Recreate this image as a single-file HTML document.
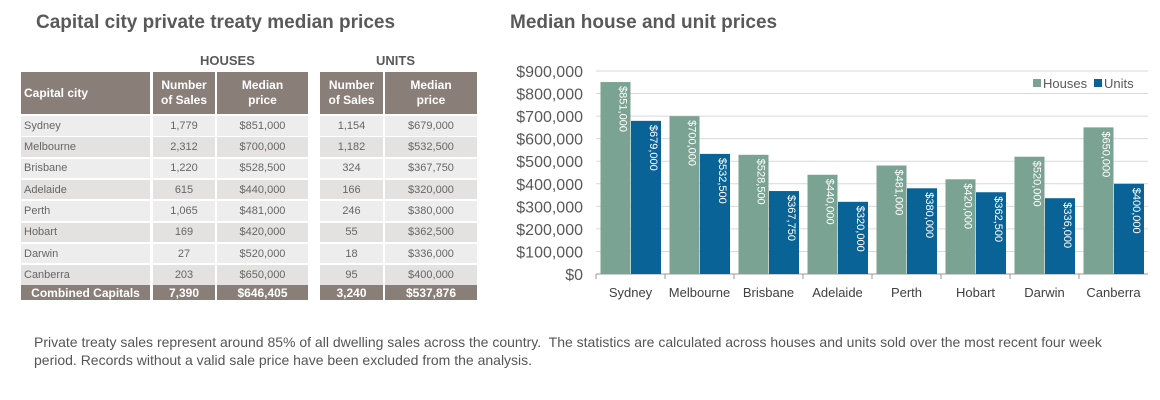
<!DOCTYPE html>
<html><head><meta charset="utf-8"><style>
body{margin:0;width:1160px;height:400px;background:#fff;font-family:"Liberation Sans",sans-serif;position:relative;overflow:hidden}
.a{position:absolute}
.t{font-weight:bold;color:#595959;font-size:19px}
.c{position:absolute;font-size:11px;color:#666;box-sizing:border-box;display:flex;align-items:center}
.h{background:#8a7f78;color:#fff;font-weight:bold;justify-content:center;text-align:center;line-height:15px;font-size:12px}
.f{background:#8a7f78;color:#fff;font-weight:bold;justify-content:center;font-size:12px}
</style></head><body>
<div class="a t" style="left:36px;top:12px">Capital city private treaty median prices</div>
<div class="a t" style="left:510px;top:12px">Median house and unit prices</div>
<div class="a" style="left:200px;top:53px;font-weight:bold;color:#595959;font-size:13px">HOUSES</div>
<div class="a" style="left:376px;top:53px;font-weight:bold;color:#595959;font-size:13px">UNITS</div>
<div id="tbl"></div>
<svg id="chart" class="a" style="left:0;top:0" width="1160" height="400"></svg>
<div class="a" style="left:34px;top:333px;width:1100px;font-size:14px;color:#555;line-height:18px">Private treaty sales represent around 85% of all dwelling sales across the country.&nbsp; The statistics are calculated across houses and units sold over the most recent four week period. Records without a valid sale price have been excluded from the analysis.</div>
<script>
const cities=["Sydney","Melbourne","Brisbane","Adelaide","Perth","Hobart","Darwin","Canberra"];
const houseSales=["1,779","2,312","1,220","615","1,065","169","27","203"];
const unitSales=["1,154","1,182","324","166","246","55","18","95"];
const houses=[851000,700000,528500,440000,481000,420000,520000,650000];
const units=[679000,532500,367750,320000,380000,362500,336000,400000];
const yTicks=[0,100000,200000,300000,400000,500000,600000,700000,800000,900000];
const fmt=v=>"$"+v.toLocaleString("en-US");
// table
const tbl=document.getElementById('tbl');
const cols=[[21,129],[153,62],[217,91],[320,63],[385,92]];
function cell(x,w,y,h,txt,cls,bg,align){const d=document.createElement('div');d.className='c '+cls;


d.style.left=x+'px';d.style.top=y+'px';d.style.width=w+'px';d.style.height=h+'px';if(bg)d.style.background=bg;
if(align)d.style.justifyContent=align;if(align==='flex-start')d.style.paddingLeft='3px';d.innerHTML=txt;tbl.appendChild(d);}
const hdr=["Capital city","Number<br>of Sales","Median<br>price","Number<br>of Sales","Median<br>price"];
hdr.forEach((t,i)=>cell(cols[i][0],cols[i][1],72,42,t,'h',null,i==0?'flex-start':null));
cities.forEach((c,r)=>{const y=116+r*21.3;const bg=r%2?'#e4e2e1':'#eeeded';
const vals=[c,houseSales[r],fmt(houses[r]),unitSales[r],fmt(units[r])];
vals.forEach((v,i)=>cell(cols[i][0],cols[i][1],y,19.5,v,'',bg,i==0?'flex-start':'center'));});
["Combined Capitals","7,390","$646,405","3,240","$537,876"].forEach((v,i)=>cell(cols[i][0],cols[i][1],285,15,v,'f',null,'center'));
// chart
const svg=document.getElementById('chart');const NS='http://www.w3.org/2000/svg';
const x0=596,x1=1148,yb=274,yt=71,ymax=900000;
const Y=v=>yb-(v/ymax)*(yb-yt);const gw=(x1-x0)/cities.length;const X=i=>x0+i*gw;
function el(t,a,txt){const e=document.createElementNS(NS,t);for(const k in a)e.setAttribute(k,a[k]);if(txt!=null)e.textContent=txt;svg.appendChild(e);return e;}
yTicks.forEach(v=>{const g=el('line',{x1:x0,x2:x1,y1:Y(v),y2:Y(v),stroke:v?'#d9d9d9':'#999','stroke-width':1});


const l=el('text',{x:583,y:Y(v)+6,'text-anchor':'end','font-size':16,fill:'#595959'},fmt(v));

});
cities.forEach((c,i)=>{
[[houses,'#7ba393',0],[units,'#0a6397',1]].forEach(([arr,col,k])=>{
const bx=X(i)+4.5+k*30.5,by=Y(arr[i]);
const r=el('rect',{x:bx,y:by,width:30,height:yb-by,fill:col});


const tx=bx+15+4,ty=by+4;
const t=el('text',{x:tx,y:ty,transform:`rotate(90 ${tx} ${ty})`,'font-size':11,fill:'#fff'},fmt(arr[i]));

});
const tk=el('line',{x1:X(i),x2:X(i),y1:yb,y2:yb+5,stroke:'#999'});


const cl=el('text',{x:X(i)+gw/2,y:297,'text-anchor':'middle','font-size':13,fill:'#404040'},c);

});
const lg=[['Houses','#7ba393',1033],['Units','#0a6397',1094]];
lg.forEach(([n,c,x])=>{const r=el('rect',{x:x,y:79,width:8,height:8,fill:c});


const t=el('text',{x:x+10,y:88,'font-size':13,fill:'#595959'},n);

});
</script>
</body></html>
